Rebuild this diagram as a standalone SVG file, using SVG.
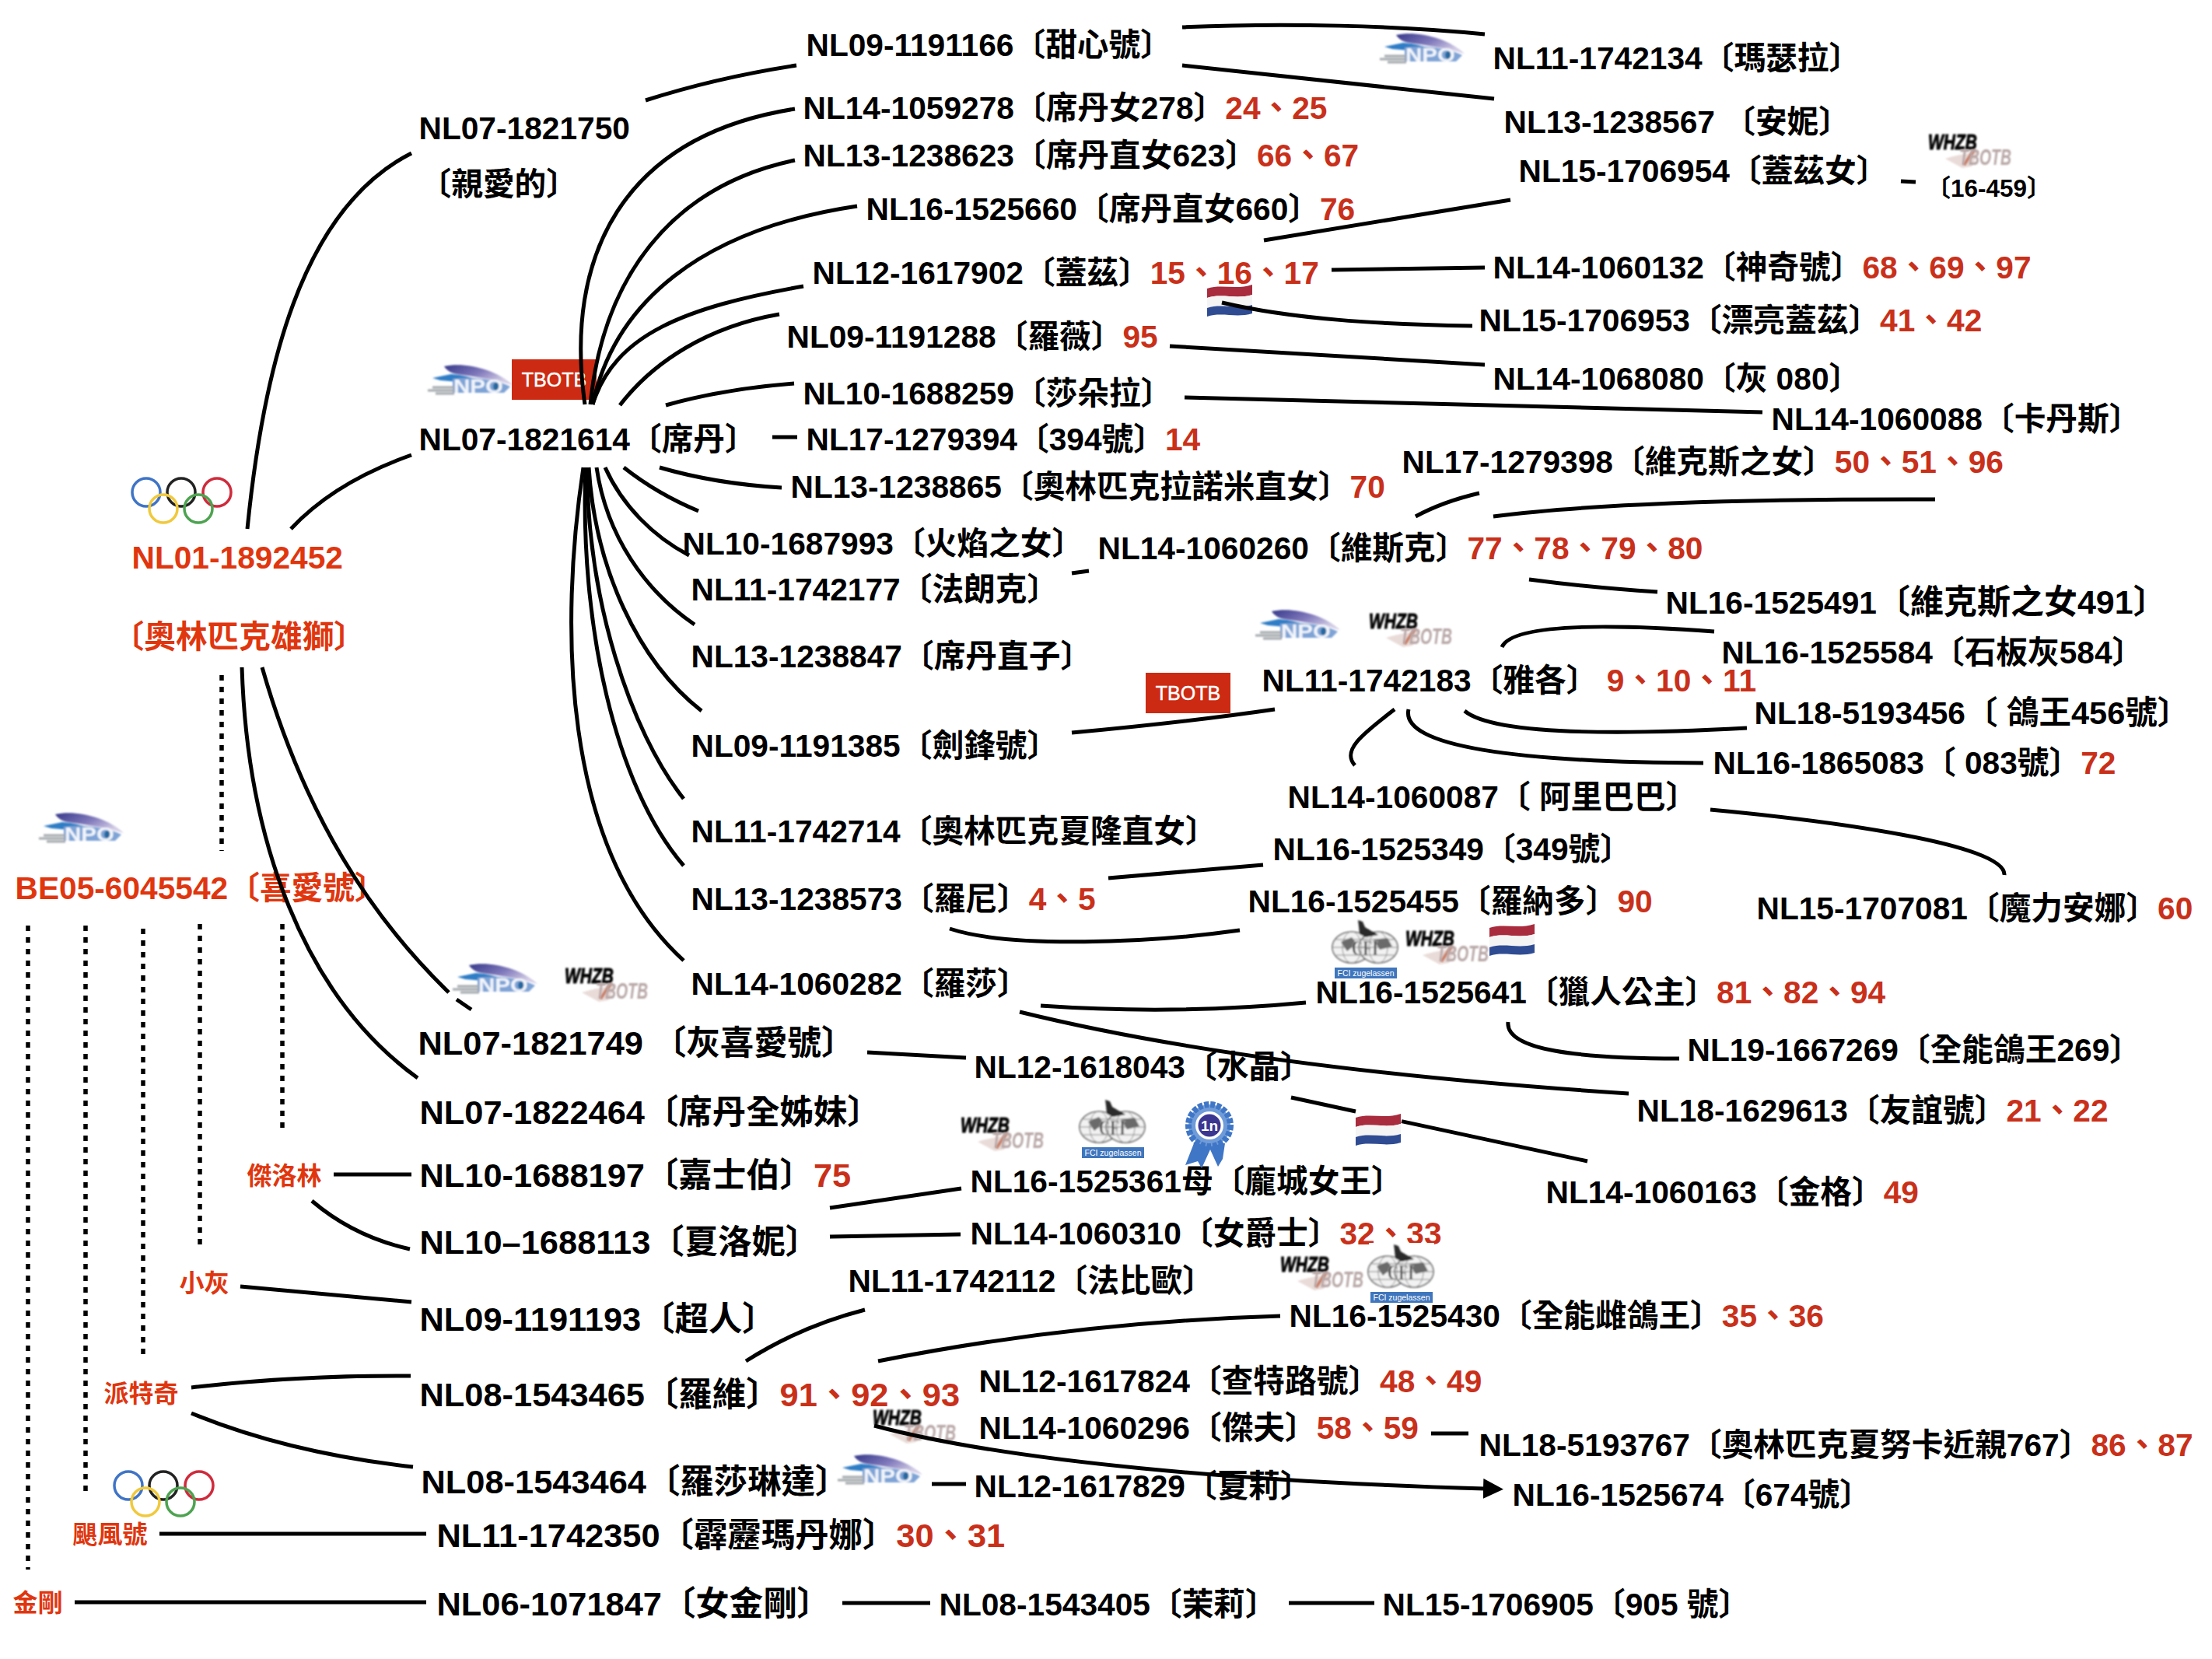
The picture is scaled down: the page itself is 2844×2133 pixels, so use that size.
<svg xmlns="http://www.w3.org/2000/svg" width="2844" height="2133" viewBox="0 0 2844 2133">
<style>
text{font-family:"Liberation Sans","Noto Sans CJK TC",sans-serif;font-weight:700;font-size:40.7px;fill:#000}
.L{font-size:43.4px}
.r{fill:#c9301a}
.h{fill:#e0360f}
.s{font-size:32px;fill:#e0360f}
.c path{fill:none;stroke:#000;stroke-width:5}
.d line{stroke:#000;stroke-width:5.5;stroke-dasharray:7 8}
.b{fill:#fff}
</style>
<defs>
<filter id="soft" x="-5%" y="-5%" width="110%" height="110%"><feGaussianBlur stdDeviation="0.8"/></filter>
<filter id="soft2" x="-10%" y="-10%" width="120%" height="120%"><feGaussianBlur stdDeviation="1.2"/></filter>
<linearGradient id="sw" x1="0" y1="0" x2="1" y2="0.5"><stop offset="0" stop-color="#35388a"/><stop offset="0.55" stop-color="#7f78bb"/><stop offset="1" stop-color="#d4cde6"/></linearGradient>
<marker id="ah" markerUnits="userSpaceOnUse" markerWidth="26" markerHeight="26" refX="2" refY="13" orient="auto"><path d="M0 0L26 13L0 26Z" fill="#000"/></marker>
<g id="npo">
<rect width="112" height="43" class="b"/>
<g filter="url(#soft)">
<path d="M23 4C50-2 90 8 111 28C85 20 60 17 40 14C32 13 26 9 23 4Z" fill="url(#sw)"/>
<path d="M8 19L32 14C46 15 58 18 70 22L50 25L30 23L18 22Z" fill="#2f7dc6"/>
<path d="M34 20C60 17 90 20 108 30L100 38H34Z" fill="#7ea3d6"/>
<path d="M2 35H36M8 31H36M12 39H36" stroke="#a5a9ae" stroke-width="3" fill="none"/>
<circle cx="92" cy="30" r="6" fill="#25689f"/>
<text x="35" y="38" textLength="64" lengthAdjust="spacingAndGlyphs" style="font-size:24px;fill:#f3f6fb">NPO</text>
</g>
</g>
<g id="whzb">
<rect width="108" height="48" class="b"/>
<path d="M22 34C40 28 52 28 66 24L56 44L44 46Z" fill="#e9dcd8" filter="url(#soft2)"/>
<path d="M60 22L46 42" stroke="#c9806a" stroke-width="4" fill="none" filter="url(#soft2)"/>
<text x="0" y="22" textLength="63" lengthAdjust="spacingAndGlyphs" filter="url(#soft)" style="font-size:28px;font-style:italic;stroke:#000;stroke-width:1">WHZB</text>
<text x="40" y="42" textLength="67" lengthAdjust="spacingAndGlyphs" filter="url(#soft2)" style="font-size:30px;font-style:italic;fill:#b8a6a6">TBOTB</text>
</g>
<g id="fci">
<rect x="0" y="0" width="84" height="77" class="b"/>
<g filter="url(#soft)">
<ellipse cx="24" cy="37" rx="25" ry="20" fill="#f2f2f2" stroke="#555" stroke-width="1.5"/>
<ellipse cx="58" cy="37" rx="25" ry="20" fill="#f2f2f2" stroke="#555" stroke-width="1.5"/>
<path d="M-1 37H49M33 37H83M4 27H44M38 27H78M4 47H44M38 47H78" stroke="#888" stroke-width="1"/>
<ellipse cx="24" cy="37" rx="12" ry="20" fill="none" stroke="#888"/>
<ellipse cx="58" cy="37" rx="12" ry="20" fill="none" stroke="#888"/>
<path d="M10 30L24 24L30 32L18 42ZM52 27L70 25L76 36L60 40Z" fill="#6a6a6a"/>
<path d="M32 2L38 4L41 11C47 15 54 18 58 21L42 24L34 20L33 10Z" fill="#2b2b2b"/>
<text x="41" y="47" text-anchor="middle" textLength="34" lengthAdjust="spacingAndGlyphs" style="font-size:27px;font-family:'Liberation Serif',serif;fill:#222;stroke:#fff;stroke-width:.5">CFI</text>
</g>
<rect x="2" y="63" width="80" height="14" fill="#3f76bd"/>
<text x="42" y="74" text-anchor="middle" style="font-size:10.5px;font-weight:400;fill:#fff">FCI zugelassen</text>
</g>
<g id="flag">
<path d="M0 6C18 0 38 8 58 1V14C38 20 18 12 0 18Z" fill="#a82c3d"/>
<path d="M0 18C18 12 38 20 58 14V27C38 33 18 25 0 31Z" fill="#f4f4f4"/>
<path d="M0 31C18 25 38 33 58 27V38C38 44 18 36 0 42Z" fill="#2f4c93"/>
</g>
<g id="rings" fill="none" stroke-width="3.5">
<circle cx="20" cy="19" r="18" stroke="#3f74c6"/>
<circle cx="65" cy="19" r="18" stroke="#222"/>
<circle cx="111" cy="19" r="18" stroke="#cf2b3c"/>
<circle cx="42" cy="40" r="18" stroke="#f0c93c"/>
<circle cx="87" cy="40" r="18" stroke="#4da350"/>
</g>
<g id="tb">
<rect width="109" height="52" fill="#cc2a12"/>
<text x="54.5" y="35" text-anchor="middle" style="font-size:25px;font-weight:400;fill:#fff;stroke:#fff;stroke-width:.5">TBOTB</text>
</g>
</defs>
<rect width="2844" height="2133" fill="#fff"/>

<g id="nodes" transform="translate(-1.5,0.8)">
<g id="n-root"><text class="h" x="171" y="730">NL01-1892452</text><text class="h" x="146" y="832">〔奧林匹克雄獅〕</text></g>
<g id="n-be05"><text class="h" x="21" y="1155">BE05-6045542〔喜愛號〕</text></g>
<g id="n-1821750"><text x="540" y="178">NL07-1821750</text><text x="541" y="250">〔親愛的〕</text></g>
<g id="n-1821614"><text x="540" y="578">NL07-1821614〔席丹〕</text></g>
<g id="n-1191166"><text x="1038" y="71">NL09-1191166〔甜心號〕</text></g>
<g id="n-1059278"><text x="1034" y="152">NL14-1059278〔席丹女278〕<tspan class="r">24、25</tspan></text></g>
<g id="n-1238623"><text x="1034" y="213">NL13-1238623〔席丹直女623〕<tspan class="r">66、67</tspan></text></g>
<g id="n-1525660"><text x="1115" y="282">NL16-1525660〔席丹直女660〕<tspan class="r">76</tspan></text></g>
<g id="n-1617902"><text x="1046" y="364">NL12-1617902〔蓋茲〕<tspan class="r">15、16、17</tspan></text></g>
<g id="n-1191288"><text x="1013" y="446">NL09-1191288〔羅薇〕<tspan class="r">95</tspan></text></g>
<g id="n-1688259"><text x="1034" y="519">NL10-1688259〔莎朵拉〕</text></g>
<g id="n-1279394"><text x="1038" y="578">NL17-1279394〔394號〕<tspan class="r">14</tspan></text></g>
<g id="n-1238865"><text x="1018" y="639">NL13-1238865〔奧林匹克拉諾米直女〕<tspan class="r">70</tspan></text></g>
<g id="n-1687993"><text x="879" y="712">NL10-1687993〔火焰之女〕</text></g>
<g id="n-1742177"><text x="890" y="771">NL11-1742177〔法朗克〕</text></g>
<g id="n-1238847"><text x="890" y="857">NL13-1238847〔席丹直子〕</text></g>
<g id="n-1191385"><text x="890" y="972">NL09-1191385〔劍鋒號〕</text></g>
<g id="n-1742714"><text x="890" y="1082">NL11-1742714〔奧林匹克夏隆直女〕</text></g>
<g id="n-1238573"><text x="890" y="1169">NL13-1238573〔羅尼〕<tspan class="r">4、5</tspan></text></g>
<g id="n-1060282"><text x="890" y="1278">NL14-1060282〔羅莎〕</text></g>
<g id="n-1742134"><text x="1921" y="88">NL11-1742134〔瑪瑟拉〕</text></g>
<g id="n-1238567"><text x="1935" y="170">NL13-1238567 〔安妮〕</text></g>
<g id="n-1706954"><text x="1954" y="233">NL15-1706954〔蓋茲女〕</text></g>
<g id="n-16-459"><text x="2478" y="252" style="font-size:31.5px">〔16-459〕</text></g>
<g id="n-1060132"><text x="1921" y="357">NL14-1060132〔神奇號〕<tspan class="r">68、69、97</tspan></text></g>
<g id="n-1706953"><text x="1903" y="425">NL15-1706953〔漂亮蓋茲〕<tspan class="r">41、42</tspan></text></g>
<g id="n-1068080"><text x="1921" y="500">NL14-1068080〔灰 080〕</text></g>
<g id="n-1060088"><text x="2279" y="552">NL14-1060088〔卡丹斯〕</text></g>
<g id="n-1279398"><text x="1804" y="607">NL17-1279398〔維克斯之女〕<tspan class="r">50、51、96</tspan></text></g>
<g id="n-1060260"><text x="1413" y="718">NL14-1060260〔維斯克〕<tspan class="r">77、78、79、80</tspan></text></g>
<g id="n-1525491"><text x="2143" y="788">NL16-1525491<tspan style="font-size:43px">〔維克斯之女491〕</tspan></text></g>
<g id="n-1525584"><text x="2215" y="852">NL16-1525584〔石板灰584〕</text></g>
<g id="n-1742183"><text x="1624" y="888">NL11-1742183〔雅各〕 <tspan class="r">9、10、11</tspan></text></g>
<g id="n-5193456"><text x="2257" y="930">NL18-5193456<tspan style="font-size:41.5px">〔 鴿王456號〕</tspan></text></g>
<g id="n-1865083"><text x="2204" y="994">NL16-1865083〔 083號〕<tspan class="r">72</tspan></text></g>
<g id="n-1060087"><text x="1657" y="1038">NL14-1060087〔 阿里巴巴〕</text></g>
<g id="n-1525349"><text x="1638" y="1105">NL16-1525349〔349號〕</text></g>
<g id="n-1525455"><text x="1606" y="1172">NL16-1525455〔羅納多〕<tspan class="r">90</tspan></text></g>
<g id="n-1707081"><text x="2260" y="1181">NL15-1707081〔魔力安娜〕<tspan class="r">60</tspan></text></g>
<g id="n-1525641"><text x="1693" y="1289">NL16-1525641〔獵人公主〕<tspan class="r">81、82、94</tspan></text></g>
<g id="n-1667269"><text x="2171" y="1363">NL19-1667269〔全能鴿王269〕</text></g>
<g id="n-1618043"><text x="1254" y="1385">NL12-1618043〔水晶〕</text></g>
<g id="n-1629613"><text x="2106" y="1441">NL18-1629613〔友誼號〕<tspan class="r">21、22</tspan></text></g>
<g id="n-1060163"><text x="1989" y="1546">NL14-1060163〔金格〕<tspan class="r">49</tspan></text></g>
<g id="n-1821749"><text class="L" x="539" y="1355">NL07-1821749 〔灰喜愛號〕</text></g>
<g id="n-1822464"><text class="L" x="541" y="1444">NL07-1822464〔席丹全姊妹〕</text></g>
<g id="n-1688197"><text class="L" x="541" y="1525">NL10-1688197〔嘉士伯〕<tspan class="r">75</tspan></text></g>
<g id="n-1688113"><text class="L" x="541" y="1611">NL10–1688113〔夏洛妮〕</text></g>
<g id="n-1191193"><text class="L" x="541" y="1710">NL09-1191193〔超人〕</text></g>
<g id="n-1543465"><text class="L" x="541" y="1807">NL08-1543465〔羅維〕<tspan class="r">91、92、93</tspan></text></g>
<g id="n-1543464"><text class="L" x="543" y="1919">NL08-1543464〔羅莎琳達〕</text></g>
<g id="n-1742350"><text class="L" x="563" y="1988">NL11-1742350〔霹靂瑪丹娜〕<tspan class="r">30、31</tspan></text></g>
<g id="n-1071847"><text class="L" x="563" y="2076">NL06-1071847〔女金剛〕</text></g>
<g id="n-1525361"><text x="1249" y="1532">NL16-1525361母〔龐城女王〕</text></g>
<g id="n-1060310"><text x="1249" y="1599">NL14-1060310〔女爵士〕<tspan class="r">32、33</tspan></text></g>
<g id="n-1742112"><text x="1092" y="1660">NL11-1742112〔法比歐〕</text></g>
<g id="n-1525430"><text x="1659" y="1705">NL16-1525430〔全能雌鴿王〕<tspan class="r">35、36</tspan></text></g>
<g id="n-1617824"><text x="1260" y="1789">NL12-1617824〔查特路號〕<tspan class="r">48、49</tspan></text></g>
<g id="n-1060296"><text x="1260" y="1849">NL14-1060296〔傑夫〕<tspan class="r">58、59</tspan></text></g>
<g id="n-5193767"><text x="1903" y="1871">NL18-5193767〔奧林匹克夏努卡近親767〕<tspan class="r">86、87</tspan></text></g>
<g id="n-1617829"><text x="1254" y="1924">NL12-1617829〔夏莉〕</text></g>
<g id="n-1525674"><text x="1946" y="1935">NL16-1525674〔674號〕</text></g>
<g id="n-1543405"><text x="1209" y="2076">NL08-1543405〔茉莉〕</text></g>
<g id="n-1706905"><text x="1779" y="2076">NL15-1706905〔905 號〕</text></g>
<g id="n-jie"><text class="s" x="319" y="1522">傑洛林</text></g>
<g id="n-xiaohui"><text class="s" x="232" y="1660">小灰</text></g>
<g id="n-pai"><text class="s" x="135" y="1802">派特奇</text></g>
<g id="n-ju"><text class="s" x="95" y="1983">颶風號</text></g>
<g id="n-jin"><text class="s" x="18" y="2071">金剛</text></g>
</g>

<g id="badges">
<use href="#npo" x="548" y="467"/><use href="#npo" x="1772" y="41"/><use href="#npo" x="48" y="1043"/><use href="#npo" x="580" y="1237"/><use href="#npo" x="1612" y="782"/><use href="#npo" x="1075" y="1868"/>
<use href="#whzb" x="2479" y="170"/><use href="#whzb" x="726" y="1242"/><use href="#whzb" x="1760" y="786"/><use href="#whzb" x="1807" y="1194"/><use href="#whzb" x="1235" y="1434"/><use href="#whzb" x="1646" y="1613"/><use href="#whzb" x="1122" y="1810"/>
<use href="#tb" x="658" y="462"/><use href="#tb" x="1473" y="865"/>
<use href="#rings" x="168" y="614"/><use href="#rings" x="145" y="1891"/>
<use href="#flag" x="1552" y="365"/><use href="#flag" x="1915" y="1187"/><use href="#flag" x="1743" y="1431"/>
<use href="#fci" x="1714" y="1181"/><use href="#fci" x="1389" y="1412"/><use href="#fci" x="1760" y="1598"/>
<g id="rosette">
<path d="M1535 1470L1524 1498L1540 1493L1545 1502L1556 1478L1566 1500L1572 1490L1575 1470Z" fill="#3f76c6"/>
<circle cx="1555" cy="1447" r="27" fill="#6f9bd8" stroke="#3f76c6" stroke-width="8" stroke-dasharray="6 2"/>
<circle cx="1555" cy="1447" r="18" fill="#fff"/><circle cx="1555" cy="1447" r="14.500" fill="#3b3690"/>
<text x="1555" y="1454" text-anchor="middle" style="font-size:19px;fill:#fff">1n</text>
</g>
</g>

<g id="connectors" class="c">
<path d="M318 680C338 480 385 270 529 197"/>
<path d="M374 680Q430 620 529 585"/>
<path d="M830 129Q920 100 1024 84"/>
<path d="M752 520C725 330 800 175 1022 140"/>
<path d="M759 520C775 360 860 240 1022 206"/>
<path d="M762 520C790 390 900 295 1102 265"/>
<path d="M762 520C790 430 880 395 1033 368"/>
<path d="M797 521C840 465 910 420 1002 404"/>
<path d="M856 521Q930 500 1021 493"/>
<path d="M993 562L1025 562"/>
<path d="M848 601Q920 622 1005 627"/>
<path d="M802 601Q845 635 898 657"/>
<path d="M778 601C800 650 840 690 886 714"/>
<path d="M767 601C780 690 830 760 893 803"/>
<path d="M757 601C765 730 820 850 902 914"/>
<path d="M755 601C755 770 810 940 879 1027"/>
<path d="M753 601C745 800 790 1010 879 1113"/>
<path d="M750 601C720 800 720 1090 879 1235"/>
<path d="M311 858C318 1080 390 1280 537 1386"/>
<path d="M337 858C392 1050 478 1180 577 1276"/>
<path d="M587 1285L606 1298"/>
<path d="M1520 35C1650 29 1800 33 1909 44"/>
<path d="M1520 84L1921 127"/>
<path d="M1625 309L1942 257"/>
<path d="M2444 233L2463 234"/>
<path d="M1712 347L1909 344"/>
<path d="M1571 389C1660 410 1770 417 1893 419"/>
<path d="M1504 445L1909 469"/>
<path d="M1523 511Q1900 519 2266 530"/>
<path d="M1820 664Q1855 645 1902 634"/>
<path d="M1920 664Q2100 641 2488 642"/>
<path d="M1966 745Q2040 755 2131 761"/>
<path d="M1378 737L1400 734"/>
<path d="M1378 942Q1530 928 1639 912"/>
<path d="M1793 912C1750 945 1725 965 1742 984"/>
<path d="M1811 912C1800 960 1950 980 2190 981"/>
<path d="M1883 914C1920 945 2080 945 2246 936"/>
<path d="M1931 832C1945 800 2080 803 2204 812"/>
<path d="M2199 1041C2350 1055 2580 1085 2577 1125"/>
<path d="M1425 1129L1624 1112"/>
<path d="M1221 1194C1300 1220 1480 1212 1594 1196"/>
<path d="M1338 1293Q1510 1305 1679 1289"/>
<path d="M1311 1301C1550 1360 1850 1390 2094 1406"/>
<path d="M1939 1314C1935 1350 2030 1361 2159 1361"/>
<path d="M1115 1353L1242 1360"/>
<path d="M1660 1411L1743 1429"/>
<path d="M1802 1441.600L2041 1493"/>
<path d="M1067 1553L1236 1528"/>
<path d="M1067 1590L1235 1587"/>
<path d="M429 1510L529 1510"/>
<path d="M401 1544Q455 1590 527 1606"/>
<path d="M309 1654L529 1674"/>
<path d="M246 1784Q380 1768 528 1769"/>
<path d="M246 1817Q370 1868 531 1886"/>
<path d="M205 1972L548 1972"/>
<path d="M96 2060L548 2060"/>
<path d="M959 1750Q1030 1705 1112 1684"/>
<path d="M1129 1750Q1380 1700 1646 1692"/>
<path d="M1124 1833C1300 1880 1600 1905 1909 1914" marker-end="url(#ah)"/>
<path d="M1840 1843L1888 1843"/>
<path d="M1198 1908L1242 1908"/>
<path d="M1083 2061L1196 2061"/>
<path d="M1657 2061L1767 2061"/>
</g>
<g id="dotted" class="d">
<line x1="285" y1="868" x2="285" y2="1094"/>
<line x1="36" y1="1190" x2="36" y2="2018"/>
<line x1="110" y1="1190" x2="110" y2="1923"/>
<line x1="184" y1="1194" x2="184" y2="1743"/>
<line x1="257" y1="1188" x2="257" y2="1604"/>
<line x1="363" y1="1188" x2="363" y2="1458"/>
</g>
</svg>
